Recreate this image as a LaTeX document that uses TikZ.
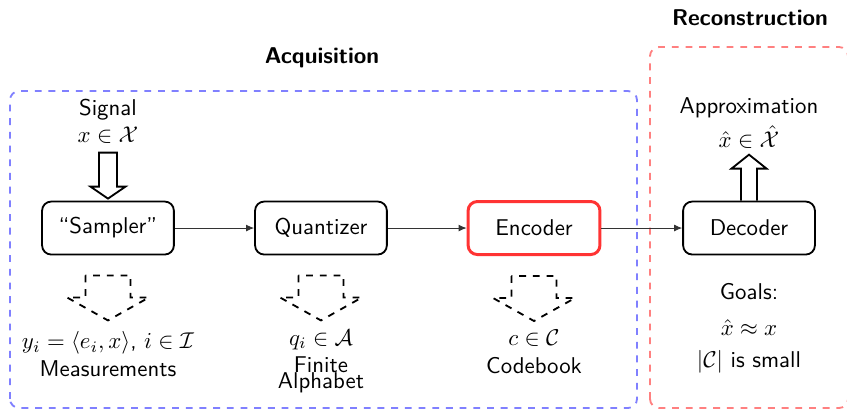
\documentclass[tikz,border=0pt]{standalone}
\usetikzlibrary{arrows.meta,calc}
\begin{document}
\begin{tikzpicture}[
    font=\sffamily,
    bloque/.style={draw, thick, rounded corners=4pt, minimum width=2.03cm, minimum height=0.816cm},
    bloqueRojo/.style={bloque, draw=red!80, line width=1.3pt},
    enlace/.style={-{Latex[length=3.5pt,width=3pt]}, black!80},
    hueca/.style={draw, thick, line join=miter},
    huecaDiscontinua/.style={hueca, dashed},
    marcoA/.style={draw=blue!50, thick, dashed, rounded corners=4pt},
    marcoB/.style={draw=red!50, thick, dashed, rounded corners=4pt},
    titulo/.style={font=\sffamily\bfseries},
    texto/.style={align=center, inner sep=0pt}
  ]
  \useasboundingbox (0,0) rectangle (13.044,6.299);

  % --- marcos discontinuos de las dos etapas ---
  \draw[marcoA] (0.154,0.015) rectangle (9.81,4.897);
  \draw[marcoB] (10.01,0.015) rectangle (13.06,5.575);
  \node[titulo] (tAdq) at (4.959,5.405) {Acquisition};
  \node[titulo] (tRec) at (11.55,6.021) {Reconstruction};

  % --- bloques ---
  \node[bloque]     (muestreo) at (1.663,2.787)  {``Sampler''};
  \node[bloque]     (cuantif)  at (4.943,2.787)  {Quantizer};
  \node[bloqueRojo] (codif)    at (8.224,2.787)  {Encoder};
  \node[bloque]     (decodif)  at (11.535,2.787) {Decoder};

  % --- enlaces entre bloques ---
  \draw[enlace] (muestreo) -- (cuantif);
  \draw[enlace] (cuantif) -- (codif);
  \draw[enlace] (codif) -- (decodif);

  % --- entrada y salida ---
  \node[texto] (senal) at (1.663,4.435) {Signal\\$x\in\mathcal{X}$};
  \node[texto] (aprox) at (11.535,4.404) {Approximation\\[3pt]$\hat{x}\in\hat{\mathcal{X}}$};
  \draw[hueca] ($(muestreo.north)+(-0.139,0.739)$) -- ++(0,-0.523) -- ++(-0.131,0)
    -- ($(muestreo.north)+(0,0.031)$) -- ++(0.27,0.185) -- ++(-0.131,0) -- ++(0,0.523) -- cycle;
  \draw[hueca] ($(decodif.north)+(-0.123,0)$) -- ++(0,0.493) -- ++(-0.147,0)
    -- ($(decodif.north)+(0,0.708)$) -- ++(0.27,-0.215) -- ++(-0.147,0) -- ++(0,-0.493);

  % --- flechas huecas discontinuas bajo cada bloque ---
  \foreach \n in {muestreo,cuantif,codif}{
    \draw[huecaDiscontinua] ($(\n.south)+(-0.347,-0.308)$) -- ++(0,-0.339) -- ++(-0.284,0)
      -- ($(\n.south)+(0,-1.001)$) -- ++(0.631,0.354) -- ++(-0.284,0) -- ++(0,0.339) -- cycle;
  }

  % --- rotulos inferiores ---
  \node[texto] (medidas)  at (1.663,0.847) {$y_i=\langle e_i,x\rangle$, $i\in\mathcal{I}$\\Measurements};
  \node[texto] (alfabeto) at (4.943,0.73)  {$q_i\in\mathcal{A}$\\Finite\\[-5pt]Alphabet};
  \node[texto] (libro)    at (8.224,0.878) {$c\in\mathcal{C}$\\Codebook};
  \node[texto] (metas)    at (11.535,1.24) {Goals:\\[4pt]$\hat{x}\approx x$\\[2pt]$|\mathcal{C}|$ is small};
\end{tikzpicture}
\end{document}
